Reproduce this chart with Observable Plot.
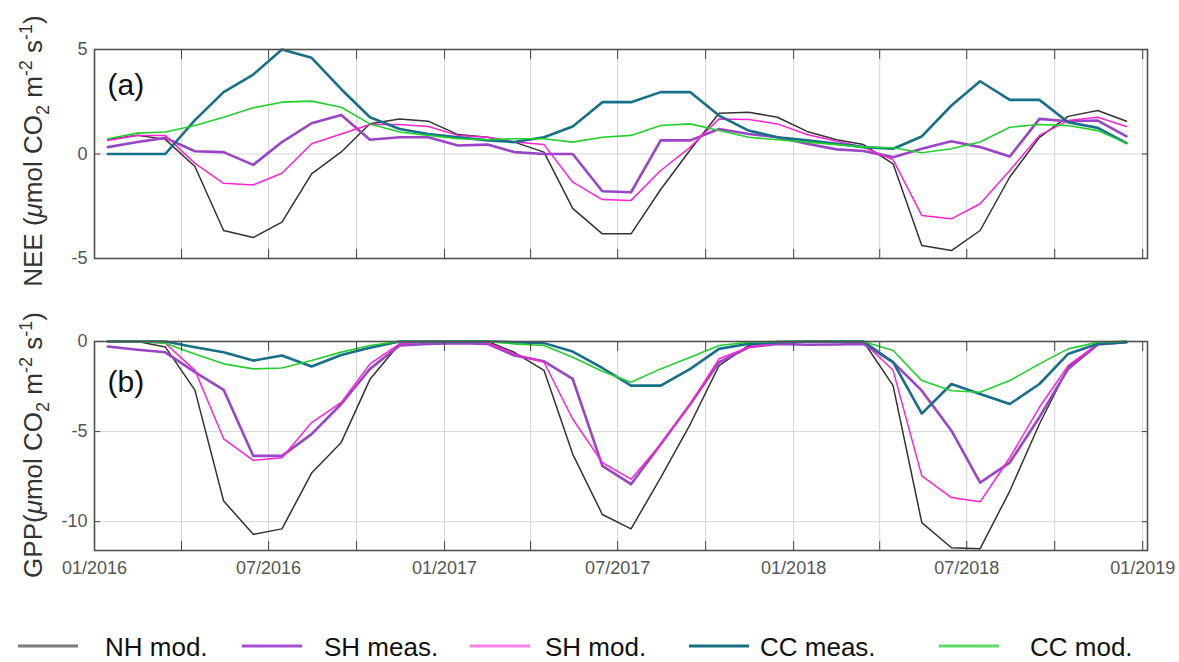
<!DOCTYPE html>
<html>
<head>
<meta charset="utf-8">
<script src="https://cdn.jsdelivr.net/npm/d3@7"></script>
<script src="https://cdn.jsdelivr.net/npm/@observablehq/plot@0.6"></script>
<style>
  body { margin: 0; background: #fff; font-family: "Liberation Sans", Arial, sans-serif; }
  #wrap { position: relative; width: 1179px; height: 662px; overflow: hidden; background: #fff; }
  #pa { position: absolute; left: 0; top: 0; }
  #pb { position: absolute; left: 0; top: 290px; }
  #legend { position: absolute; left: 0; top: 620px; }
</style>
</head>
<body>
<div id="wrap">
  <div id="pa"></div>
  <div id="pb"></div>
  <svg id="legend" width="1179" height="42"></svg>
</div>
<script>
// ---- Data (monthly values, mid-month, Jan 2016 – Dec 2018) ----
const months = [
  "2016-01","2016-02","2016-03","2016-04","2016-05","2016-06","2016-07","2016-08","2016-09","2016-10","2016-11","2016-12",
  "2017-01","2017-02","2017-03","2017-04","2017-05","2017-06","2017-07","2017-08","2017-09","2017-10","2017-11","2017-12",
  "2018-01","2018-02","2018-03","2018-04","2018-05","2018-06","2018-07","2018-08","2018-09","2018-10","2018-11","2018-12"
];
const seriesNames = ["NH mod.", "SH meas.", "SH mod.", "CC meas.", "CC mod."];

// (a) NEE
const nheNH  = [0.7, 0.9, 0.7, -0.6, -3.66, -4.0, -3.26, -0.95, 0.1, 1.45, 1.68, 1.57, 0.93, 0.8, 0.57, 0.09, -2.6, -3.82, -3.82, -1.7, 0.2, 1.95, 2.0, 1.76, 1.08, 0.68, 0.45, -0.47, -4.38, -4.62, -3.66, -1.1, 0.8, 1.8, 2.08, 1.57];
const neeSHmeas = [0.33, 0.57, 0.77, 0.13, 0.09, -0.52, 0.57, 1.47, 1.87, 0.68, 0.8, 0.8, 0.41, 0.45, 0.09, 0.0, 0.0, -1.78, -1.83, 0.65, 0.65, 1.2, 0.96, 0.8, 0.49, 0.22, 0.14, -0.15, 0.25, 0.61, 0.33, -0.12, 1.68, 1.57, 1.6, 0.84];
const neeSHmod = [0.65, 0.89, 0.89, -0.45, -1.4, -1.48, -0.92, 0.49, 0.96, 1.41, 1.41, 1.32, 0.89, 0.8, 0.57, 0.45, -1.35, -2.18, -2.22, -0.79, 0.33, 1.68, 1.65, 1.44, 0.93, 0.61, 0.33, -0.28, -2.94, -3.1, -2.38, -0.79, 0.89, 1.6, 1.76, 1.32];
const neeCCmeas = [0, 0, 0, 1.62, 2.96, 3.8, 5.0, 4.6, 3.1, 1.76, 1.2, 0.96, 0.8, 0.65, 0.57, 0.8, 1.32, 2.48, 2.48, 2.96, 2.96, 1.84, 1.12, 0.8, 0.65, 0.49, 0.33, 0.25, 0.84, 2.32, 3.48, 2.59, 2.59, 1.52, 1.25, 0.52];
const neeCCmod = [0.73, 1.0, 1.05, 1.36, 1.76, 2.21, 2.48, 2.53, 2.24, 1.44, 1.05, 0.89, 0.73, 0.68, 0.73, 0.73, 0.57, 0.8, 0.89, 1.36, 1.44, 1.12, 0.8, 0.68, 0.57, 0.45, 0.33, 0.3, 0.06, 0.25, 0.57, 1.28, 1.41, 1.36, 1.12, 0.52];

// (b) GPP
const gppNH = [0, 0, -0.3, -2.7, -8.85, -10.7, -10.4, -7.3, -5.6, -2.1, -0.13, 0, 0, 0, -0.6, -1.6, -6.25, -9.6, -10.4, -7.55, -4.58, -1.34, -0.22, 0, 0, 0, 0, -2.45, -10.05, -11.45, -11.5, -8.3, -4.58, -1.43, -0.13, 0];
const gppSHmeas = [-0.28, -0.46, -0.6, -1.7, -2.68, -6.35, -6.35, -5.14, -3.47, -1.52, -0.22, -0.13, -0.1, -0.13, -0.78, -1.1, -2.08, -6.9, -7.92, -5.7, -3.47, -1.15, -0.32, -0.13, -0.18, -0.17, -0.13, -1.15, -2.73, -4.95, -7.83, -6.72, -4.2, -1.52, -0.17, -0.04];
const gppSHmod = [0, 0, -0.1, -1.6, -5.4, -6.6, -6.45, -4.5, -3.38, -1.24, -0.13, 0, 0, -0.07, -0.69, -1.15, -4.3, -6.72, -7.64, -5.7, -3.47, -0.96, -0.32, -0.07, -0.04, -0.04, -0.04, -1.6, -7.46, -8.66, -8.9, -6.45, -3.65, -1.34, -0.13, 0];
const gppCCmeas = [0, 0, 0, -0.32, -0.6, -1.06, -0.78, -1.39, -0.75, -0.35, 0, 0, 0, 0, -0.04, -0.09, -0.56, -1.47, -2.45, -2.45, -1.52, -0.41, -0.13, -0.04, 0, 0, 0, -1.15, -4.0, -2.36, -2.91, -3.47, -2.36, -0.69, -0.13, -0.04];
const gppCCmod = [0, 0, -0.1, -0.69, -1.24, -1.52, -1.47, -1.06, -0.59, -0.22, 0, 0, 0, 0, -0.13, -0.22, -0.87, -1.65, -2.26, -1.52, -0.87, -0.22, -0.04, 0, 0, 0, 0, -0.5, -2.17, -2.73, -2.82, -2.17, -1.24, -0.41, -0.04, 0.02];

const yTicksA = [-5, 0, 5];
const yTicksB = [-10, -5, 0];

// ---- Styles ----
const colors = ["#333333", "#9a45c8", "#ff22d4", "#16708a", "#22d02c"];
const widths = [1.5, 2.6, 1.5, 2.6, 1.6];
const legendColors = ["#7a7a7a", "#a34fd2", "#ff80e4", "#1b6d82", "#5ade68"];
const FONT = '"Liberation Sans", Arial, Helvetica, sans-serif';

const parseMonth = d3.utcParse("%Y-%m");
const dates = months.map(m => d3.utcDay.offset(parseMonth(m), 14));
function tidy(arrays) {
  return arrays.map((vals, i) => vals.map((v, j) => ({date: dates[j], value: v, series: seriesNames[i]})));
}
const dataA = tidy([nheNH, neeSHmeas, neeSHmod, neeCCmeas, neeCCmod]);
const dataB = tidy([gppNH, gppSHmeas, gppSHmod, gppCCmeas, gppCCmod]);

const xDomain = [new Date(Date.UTC(2016, 0, 1)), new Date(Date.UTC(2019, 0, 6))];
const gridTicks = d3.utcMonth.every(3).range(new Date(Date.UTC(2016, 0, 1)), new Date(Date.UTC(2019, 0, 2)));
const labelTicks = d3.utcMonth.every(6).range(new Date(Date.UTC(2016, 0, 1)), new Date(Date.UTC(2019, 0, 2)));
const fmt = d3.utcFormat("%m/%Y");

function panel({data, yDomain, yTicks, innerTicks, height, mt, mb, tag, tagDy, showX}) {
  const lines = data.map((d, i) => Plot.line(d, {x: "date", y: "value", stroke: colors[i], strokeWidth: widths[i], strokeLinejoin: "round"}));
  const marks = [
    Plot.gridX(gridTicks, {stroke: "#d6d6d6", strokeOpacity: 1, strokeWidth: 1}),
    Plot.gridY(innerTicks, {stroke: "#d6d6d6", strokeOpacity: 1, strokeWidth: 1}),
    ...lines,
    Plot.axisX(gridTicks, {anchor: "bottom", tickSize: -9, tickFormat: () => "", stroke: "#444", label: null}),
    Plot.axisX(gridTicks, {anchor: "top", tickSize: -9, tickFormat: () => "", stroke: "#444", label: null}),
    Plot.axisY(innerTicks, {anchor: "left", tickSize: -6, tickFormat: () => "", stroke: "#444", label: null}),
    Plot.axisY(innerTicks, {anchor: "right", tickSize: -6, tickFormat: () => "", stroke: "#444", label: null}),
    Plot.axisY(yTicks, {anchor: "left", tickSize: 0, tickPadding: 7, tickFormat: d => String(d), fontSize: 18, fill: "#555", label: null}),
    Plot.frame({stroke: "#505050", strokeWidth: 1.6}),
    Plot.text([tag], {frameAnchor: "top-left", dx: 13, dy: tagDy, fontSize: 30, fill: "#111", textAnchor: "start", lineAnchor: "top"})
  ];
  if (showX) {
    marks.push(Plot.axisX(labelTicks, {anchor: "bottom", tickSize: 0, tickPadding: 11, tickFormat: fmt, fontSize: 18, fill: "#555", label: null}));
  }
  return Plot.plot({
    width: 1179, height, marginTop: mt, marginBottom: mb, marginLeft: 94, marginRight: 32,
    style: {fontFamily: FONT, fontSize: "18px", color: "#555", background: "transparent", overflow: "visible"},
    x: {type: "utc", domain: xDomain},
    y: {domain: yDomain},
    marks
  });
}

function addYLabel(svg, name, cy) {
  const t = d3.select(svg).append("text")
    .attr("transform", `translate(42,${cy}) rotate(-90)`)
    .attr("text-anchor", "middle")
    .attr("font-family", FONT)
    .attr("font-size", 26)
    .attr("fill", "#333");
  t.append("tspan").text(name);
  t.append("tspan").attr("font-style", "italic").text("\u03bc");
  t.append("tspan").text("mol CO");
  t.append("tspan").attr("font-size", 18).attr("dy", 7).text("2");
  t.append("tspan").attr("dy", -7).text(" m");
  t.append("tspan").attr("font-size", 18).attr("dy", -10).text("-2");
  t.append("tspan").attr("dy", 10).text(" s");
  t.append("tspan").attr("font-size", 18).attr("dy", -10).text("-1");
  t.append("tspan").attr("dy", 10).text(")");
}

const svgA = panel({data: dataA, yDomain: [-5, 5], yTicks: yTicksA, innerTicks: [0], height: 290, mt: 49, mb: 32, tag: "(a)", tagDy: 24, showX: false});
addYLabel(svgA, "NEE (", 151);
document.getElementById("pa").appendChild(svgA);

const svgB = panel({data: dataB, yDomain: [-11.6, 0], yTicks: yTicksB, innerTicks: [-10, -5], height: 310, mt: 51, mb: 50, tag: "(b)", tagDy: 29, showX: true});
addYLabel(svgB, "GPP(", 155);
document.getElementById("pb").appendChild(svgB);

// ---- Legend ----
const legendLineX = [18, 242, 470, 689, 939];
const legendTextX = [105, 324, 545, 760, 1030];
const lg = d3.select("#legend");
seriesNames.forEach((name, i) => {
  lg.append("line").attr("x1", legendLineX[i]).attr("x2", legendLineX[i] + 60)
    .attr("y1", 26).attr("y2", 26).attr("stroke", legendColors[i]).attr("stroke-width", 3);
  lg.append("text").attr("x", legendTextX[i]).attr("y", 36)
    .attr("font-family", FONT).attr("font-size", 26).attr("fill", "#111").text(name);
});
</script>
</body>
</html>
